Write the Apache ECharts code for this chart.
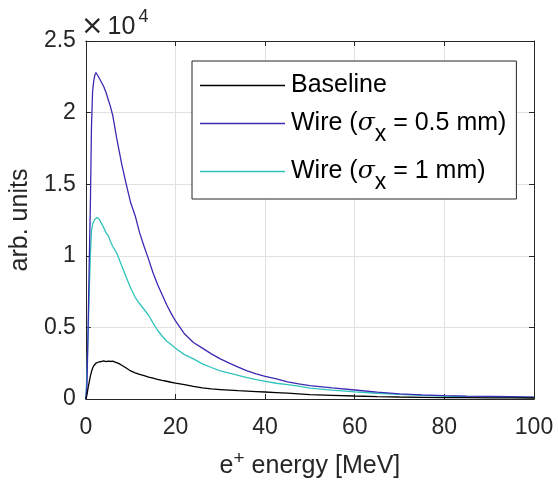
<!DOCTYPE html>
<html><head><meta charset="utf-8">
<script src="https://cdn.jsdelivr.net/npm/echarts@6/dist/echarts.min.js"></script>
<style>html,body{margin:0;padding:0;background:#fff}#c{width:558px;height:484px}</style>
</head><body><div id="c"></div>
<script>
// energy grid [MeV]
const energy = [0,0.25,0.5,0.75,1,1.25,1.5,1.75,2,2.25,2.5,3,3.5,4,4.5,5,5.5,6,6.5,7,7.5,8,9,10,11,12,13,14,15,16,17,18,19,20,22,24,26,28,30,32,34,36,38,40,42.5,45,47.5,50,55,60,65,70,75,80,85,90,95,100];
// values in units of 1e4
const baseline = [0,0.03,0.08,0.12,0.16,0.19,0.215,0.232,0.243,0.25,0.255,0.26,0.262,0.266,0.261,0.265,0.262,0.264,0.258,0.252,0.245,0.236,0.216,0.196,0.183,0.172,0.163,0.153,0.145,0.137,0.13,0.124,0.117,0.111,0.1,0.088,0.077,0.07,0.066,0.062,0.058,0.055,0.052,0.049,0.045,0.041,0.036,0.031,0.026,0.021,0.017,0.014,0.012,0.01,0.009,0.008,0.0075,0.007];
const wire05 = [0,0.1,0.5,0.95,1.35,1.9,2.15,2.22,2.26,2.28,2.27,2.24,2.21,2.18,2.14,2.09,2.04,1.98,1.89,1.80,1.72,1.64,1.50,1.37,1.28,1.16,1.065,0.975,0.88,0.80,0.73,0.66,0.60,0.545,0.455,0.395,0.355,0.315,0.28,0.25,0.222,0.197,0.176,0.158,0.14,0.12,0.105,0.093,0.077,0.063,0.048,0.036,0.029,0.024,0.02,0.018,0.016,0.013];
const wire1 = [0,0.2,0.45,0.75,1.0,1.17,1.22,1.24,1.255,1.262,1.268,1.255,1.225,1.195,1.16,1.14,1.10,1.065,1.04,1.01,0.97,0.93,0.85,0.775,0.71,0.665,0.625,0.585,0.53,0.48,0.44,0.405,0.38,0.355,0.31,0.28,0.245,0.22,0.197,0.18,0.165,0.15,0.135,0.123,0.11,0.1,0.09,0.076,0.062,0.05,0.04,0.032,0.025,0.02,0.017,0.015,0.013,0.011];
const seriesNames = ['Baseline','Wire (σx = 0.5 mm)','Wire (σx = 1 mm)'];
const seriesColors = ['#000000','#3a2bb3','#2fc4bb'];
const xTickLabels = [0,20,40,60,80,100];
const yTickLabels = [0,0.5,1,1.5,2,2.5];

const FONT = 'Liberation Sans';
const ink = '#262626';
const chart = echarts.init(document.getElementById('c'), null, {renderer:'canvas'});
const pair = (vals) => energy.map((e,i)=>[e, vals[i]]);
const allVals = [baseline, wire05, wire1];

const axisBase = {
  type:'value', min:0,
  axisLine:{show:true, onZero:false, lineStyle:{color:ink, width:1}},
  axisTick:{show:true, inside:true, length:5, lineStyle:{color:ink}},
  nameTextStyle:{fontFamily:FONT, color:ink}
};

chart.setOption({
  animation:false,
  backgroundColor:'#fff',
  grid:{left:84, right:24, top:41, bottom:83, containLabel:false},
  xAxis:[
    Object.assign({}, axisBase, {
      position:'bottom', max:100, interval:20,
      axisLabel:{show:true, margin:17, fontSize:23, color:ink, fontFamily:FONT,
        customValues: xTickLabels},
      splitLine:{show:true, lineStyle:{color:'#e1e1e1', width:1}},
      name:'{a|e}{p|+}{a| energy [MeV]}', nameLocation:'middle', nameGap:50,
      nameTextStyle:{fontFamily:FONT, color:ink, fontSize:25,
        rich:{a:{fontSize:25, fontFamily:FONT, color:ink, verticalAlign:'bottom', lineHeight:30},
              p:{fontSize:19, fontFamily:FONT, color:ink, verticalAlign:'top', lineHeight:30}}}
    }),
    Object.assign({}, axisBase, {
      position:'top', max:100, interval:20,
      axisLabel:{show:false}, splitLine:{show:false}
    })
  ],
  yAxis:[
    Object.assign({}, axisBase, {
      position:'left', max:2.5, interval:0.5,
      axisLabel:{show:true, margin:10, fontSize:23, color:ink, fontFamily:FONT,
        customValues: yTickLabels},
      splitLine:{show:true, lineStyle:{color:'#e1e1e1', width:1}},
      name:'arb. units', nameLocation:'middle', nameGap:52, nameRotate:90,
      nameTextStyle:{fontFamily:FONT, color:ink, fontSize:25}
    }),
    Object.assign({}, axisBase, {
      position:'right', max:2.5, interval:0.5,
      axisLabel:{show:false}, splitLine:{show:false}
    })
  ],
  legend:{
    orient:'vertical', left:192, top:61,
    padding:[12,10,5,8], itemGap:13,
    icon:'rect', itemWidth:85, itemHeight:1.3,
    borderColor:ink, borderWidth:1, backgroundColor:'#fff',
    data: seriesNames,
    formatter: (n) => n.replace('σx', '{s|σ}{x|x}'),
    textStyle:{fontFamily:FONT, fontSize:25, color:'#000', padding:[0,0,0,1],
      rich:{
        s:{fontSize:25, fontFamily:'DejaVu Serif', fontStyle:'italic', color:'#000'},
        x:{fontSize:23, fontFamily:FONT, color:'#000', verticalAlign:'bottom', lineHeight:45}
      }}
  },
  graphic:[{
    type:'text', left:81, top:8,
    style:{
      text:'{m|×}{a|10}{b|4}',
      rich:{m:{fontSize:27, fontFamily:'DejaVu Sans', fill:ink, verticalAlign:'bottom', lineHeight:32, padding:[0,4,0,0]},
            a:{fontSize:25, fontFamily:FONT, fill:ink, verticalAlign:'bottom', lineHeight:32},
            b:{fontSize:18, fontFamily:FONT, fill:ink, verticalAlign:'top', lineHeight:32, padding:[0,0,0,3]}}
    }
  }],
  series: seriesNames.map((n,i)=>({
    name:n, type:'line', xAxisIndex:0, yAxisIndex:0,
    data: pair(allVals[i]),
    symbol:'none', showSymbol:false,
    lineStyle:{color:seriesColors[i], width:1.3},
    itemStyle:{color:seriesColors[i]},
    z: 3-i
  }))
});
</script></body></html>
